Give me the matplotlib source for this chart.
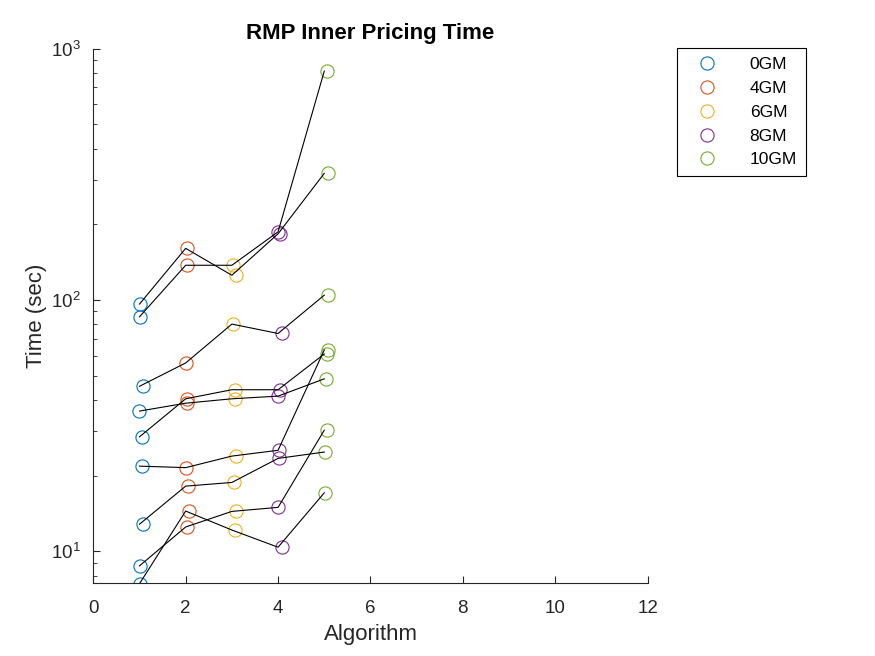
import numpy as np
import matplotlib
matplotlib.use('Agg')
import matplotlib.pyplot as plt

# RMP inner pricing time per algorithm
# one entry per test instance, same order in every group
plt.rcParams['font.family'] = ['Liberation Sans', 'DejaVu Sans']
plt.rcParams['mathtext.fontset'] = 'custom'
plt.rcParams['mathtext.rm'] = 'Liberation Sans'

groups = ['0GM', '4GM', '6GM', '8GM', '10GM']
algorithms = [1, 2, 3, 4, 5]

time_0GM = [96.2, 85.6, 45.3, 36.1, 28.5, 21.8, 12.8, 8.74, 7.42]
time_4GM = [160.3, 137.3, 56.1, 38.8, 40.4, 21.5, 18.15, 12.48, 14.44]
time_6GM = [125.3, 137.3, 80.1, 40.4, 43.9, 23.9, 18.77, 14.40, 12.14]
time_8GM = [183.2, 186.5, 73.5, 41.4, 43.9, 25.2, 23.4, 14.94, 10.37]
time_10GM = [318.7, 813.5, 104.4, 48.5, 60.9, 63.2, 24.8, 30.3, 17.07]

# jittered x of the circles (lines go through the integer algorithm number)
x_0GM = [1.01, 1.01, 1.08, 1.00, 1.05, 1.05, 1.08, 1.01, 1.01]
x_4GM = [2.02, 2.02, 2.01, 2.02, 2.02, 2.01, 2.06, 2.02, 2.08]
x_6GM = [3.08, 3.03, 3.02, 3.07, 3.07, 3.08, 3.05, 3.08, 3.07]
x_8GM = [4.04, 4.00, 4.09, 4.00, 4.04, 4.03, 4.03, 4.00, 4.08]
x_10GM = [5.09, 5.05, 5.09, 5.04, 5.05, 5.09, 5.02, 5.05, 5.02]

times = [time_0GM, time_4GM, time_6GM, time_8GM, time_10GM]
xs = [x_0GM, x_4GM, x_6GM, x_8GM, x_10GM]
colors = ['#0072BD', '#D95319', '#EDB120', '#7E2F8E', '#77AC30']
txtcol = '#262626'

fig = plt.figure(figsize=(8.75, 6.56), dpi=100)
ax = fig.add_axes([0.1066, 0.1108, 0.6336, 0.8152])

for k in range(len(groups)):
    ax.plot(xs[k], times[k], 'o', mfc='none', mec=colors[k], ms=9.5, mew=0.8,
            label=groups[k], zorder=2)

tv = np.array(times)
for i in range(tv.shape[1]):
    ax.plot(algorithms, tv[:, i], '-', color='k', lw=0.8, zorder=3)

ax.set_yscale('log')
ax.set_xlim(0, 12)
ax.set_ylim(7.45, 1000)
ax.set_xticks(np.arange(0, 13, 2))
ax.set_yticks([10, 100, 1000])
ax.set_yticklabels([r'$\mathregular{10^{1}}$', r'$\mathregular{10^{2}}$', r'$\mathregular{10^{3}}$'])
ax.spines['top'].set_visible(False)
ax.spines['right'].set_visible(False)
for s in ['left', 'bottom']:
    ax.spines[s].set_color(txtcol)
    ax.spines[s].set_linewidth(0.8)
ax.tick_params(which='both', direction='in', colors=txtcol, labelsize=13.5)
ax.tick_params(which='major', length=5)
ax.tick_params(which='minor', length=3)
ax.tick_params(axis='x', pad=12)
ax.tick_params(axis='y', pad=9)

ax.set_xlabel('Algorithm', fontsize=16, color=txtcol, labelpad=5)
ax.set_ylabel('Time (sec)', fontsize=16, color=txtcol, labelpad=3)
ax.set_title('RMP Inner Pricing Time', fontsize=16, fontweight='bold', pad=7)

leg = ax.legend(loc='upper left', bbox_to_anchor=(0.7734, 0.9264), bbox_transform=fig.transFigure,
                fancybox=False, framealpha=1, edgecolor='k', fontsize=12.5, borderaxespad=0,
                handletextpad=1.2, labelspacing=0.5, borderpad=0.5, handlelength=2.5)
leg.get_frame().set_linewidth(0.8)

fig.savefig('out.png', dpi=100)
